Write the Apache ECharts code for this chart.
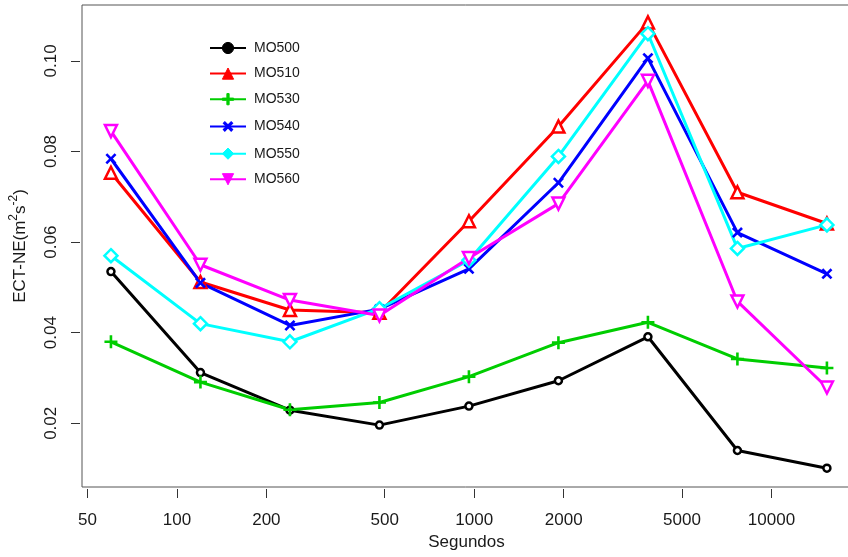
<!DOCTYPE html>
<html>
<head>
    <meta charset="UTF-8" />
    <script src="https://cdn.jsdelivr.net/npm/echarts@6/dist/echarts.min.js"></script>
    <style>
        html, body { margin: 0; padding: 0; background: #fff; }
        #chart { width: 848px; height: 557px; }
    </style>
</head>
<body>
    <div id="chart"></div>
    <script>
        // tiempos (s) y valores
        var segundos = [60, 120, 240, 480, 960, 1920, 3840, 7680, 15360];
        var xTicks = [50, 100, 200, 500, 1000, 2000, 5000, 10000];
        var yTicks = [0.02, 0.04, 0.06, 0.08, 0.10];

        var MO500 = [0.0535, 0.0312, 0.0229, 0.0196, 0.0238, 0.0294, 0.0391, 0.0140, 0.0101];
        var MO510 = [0.0753, 0.0512, 0.0450, 0.0444, 0.0646, 0.0855, 0.1085, 0.0710, 0.0641];
        var MO530 = [0.0380, 0.0291, 0.0230, 0.0246, 0.0303, 0.0378, 0.0423, 0.0342, 0.0322];
        var MO540 = [0.0784, 0.0510, 0.0416, 0.0452, 0.0541, 0.0731, 0.1006, 0.0621, 0.0530];
        var MO550 = [0.0570, 0.0420, 0.0380, 0.0453, 0.0560, 0.0789, 0.1060, 0.0586, 0.0638];
        var MO560 = [0.0845, 0.0550, 0.0472, 0.0438, 0.0565, 0.0685, 0.0956, 0.0469, 0.0279];

        var nombres = ["MO500", "MO510", "MO530", "MO540", "MO550", "MO560"];
        var valores = [MO500, MO510, MO530, MO540, MO550, MO560];
        var colores = ["#000000", "#ff0000", "#00cd00", "#0000ff", "#00ffff", "#ff00ff"];

        var plus = "path://M4,0h2v4h4v2h-4v4h-2v-4h-4v-2h4z";
        // simbolo, tamaño, rotacion, hueco
        var simbolos = [
            ["circle", 7, 0, true],
            ["triangle", 12, 0, true],
            [plus, 13, 0, false],
            [plus, 13, 45, false],
            ["diamond", 13, 0, true],
            ["triangle", 12, 180, true]
        ];

        var font = "Liberation Sans, Arial, sans-serif";
        var series = [];
        var legendData = [];
        for (var i = 0; i < nombres.length; i++) {
            var pts = [];
            for (var j = 0; j < segundos.length; j++) {
                pts.push([segundos[j], valores[i][j]]);
            }
            var s = simbolos[i];
            series.push({
                name: nombres[i],
                type: "line",
                data: pts,
                symbol: s[0],
                symbolSize: s[1],
                symbolRotate: s[2],
                showAllSymbol: true,
                lineStyle: { color: colores[i], width: 3 },
                itemStyle: s[3]
                    ? { color: "#ffffff", borderColor: colores[i], borderWidth: 2.5 }
                    : { color: colores[i], borderWidth: 0 },
                emphasis: { disabled: true },
                animation: false
            });
            legendData.push({
                name: nombres[i],
                itemStyle: { color: colores[i], borderColor: colores[i], borderWidth: 1 }
            });
        }

        var myChart = echarts.init(document.getElementById("chart"));
        var option = {
            backgroundColor: "#ffffff",
            animation: false,
            textStyle: { fontFamily: font },
            grid: {
                left: 82, top: 5, right: -3, bottom: 70,
                show: true, borderColor: "#555", borderWidth: 1,
                backgroundColor: "transparent",
                outerBoundsMode: "none"
            },
            legend: {
                orient: "vertical",
                left: 204,
                top: 36,
                itemWidth: 36,
                itemHeight: 14,
                itemGap: 11.6,
                icon: "inherit",
                textStyle: { fontSize: 14, color: "#1a1a1a", fontFamily: font, padding: [0, 0, 0, 3] },
                data: legendData
            },
            xAxis: {
                type: "log",
                logBase: 10,
                min: 47.95,
                max: 18510,
                offset: 2,
                axisLine: { show: false },
                axisTick: { show: true, length: 9, customValues: xTicks, lineStyle: { color: "#333", width: 1 } },
                axisLabel: {
                    customValues: xTicks,
                    margin: 23,
                    fontSize: 17,
                    color: "#1a1a1a",
                    fontFamily: font,
                    formatter: function (v) { return String(Math.round(v)); }
                },
                splitLine: { show: false },
                minorTick: { show: false },
                name: "Segundos",
                nameLocation: "middle",
                nameGap: 45,
                nameTextStyle: { fontSize: 17, color: "#1a1a1a", fontFamily: font }
            },
            yAxis: {
                type: "value",
                min: 0.00594,
                max: 0.11234,
                offset: 2,
                axisLine: { show: false },
                axisTick: { show: true, length: 9, customValues: yTicks, lineStyle: { color: "#333", width: 1 } },
                axisLabel: {
                    customValues: yTicks,
                    rotate: 90,
                    margin: 20,
                    fontSize: 17,
                    color: "#1a1a1a",
                    fontFamily: font,
                    formatter: function (v) { return v.toFixed(2); }
                },
                splitLine: { show: false },
                name: "{a|ECT-NE(m}{s|2}{a|s}{s|-2}{a|)}",
                nameLocation: "middle",
                nameGap: 48,
                nameTextStyle: {
                    color: "#1a1a1a",
                    fontFamily: font,
                    rich: {
                        a: { fontSize: 17, color: "#1a1a1a", fontFamily: font },
                        s: { fontSize: 12, color: "#1a1a1a", fontFamily: font, padding: [0, 0, 12, 0] }
                    }
                }
            },
            series: series
        };
        myChart.setOption(option);
    </script>
</body>
</html>
